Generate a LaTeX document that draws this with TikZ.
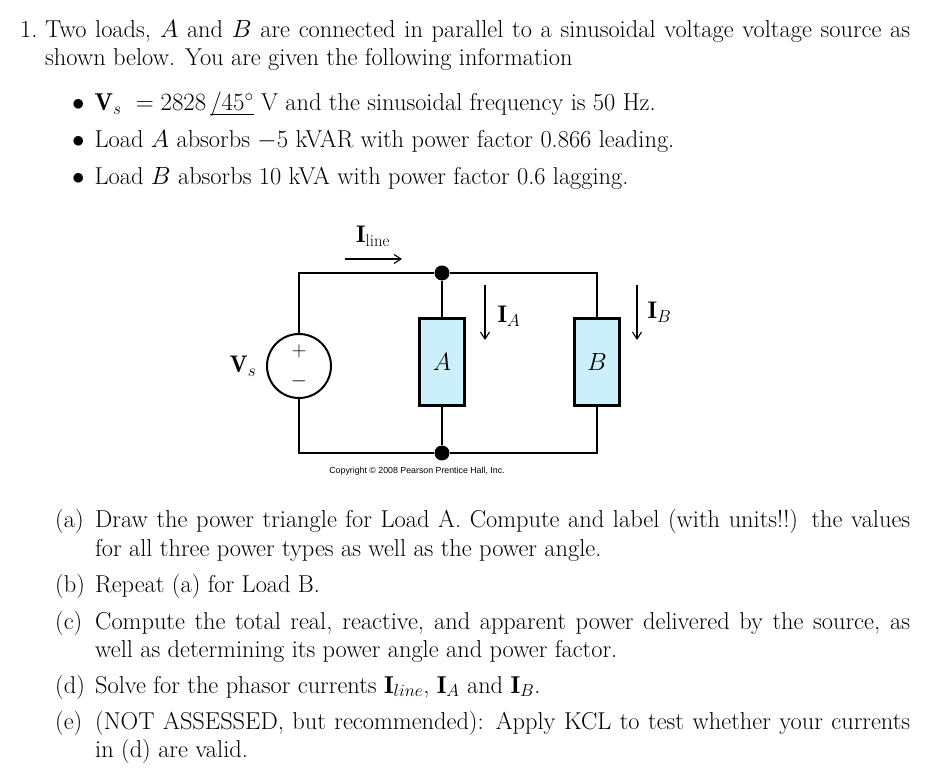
\documentclass[tikz,border=0pt]{standalone}
\usepackage{amsmath}
\usepackage{fontspec}
\newfontfamily\sansf{Liberation Sans}
\usetikzlibrary{arrows.meta}
\begin{document}
\begin{tikzpicture}[x=1pt,y=-1pt,
  txt/.style={anchor=base west,inner sep=0pt,font=\fontsize{24.4}{28}\selectfont},
  wire/.style={line width=1.8pt},
  load/.style={draw,line width=2.8pt,fill=cyan!20,minimum width=45pt,minimum height=87pt,inner sep=0pt},
  dot/.style={circle,fill,inner sep=0pt,minimum size=15pt},
  cur/.style={-{Straight Barb[length=7pt,width=9pt]},line width=1.1pt}]
\useasboundingbox (0,0) rectangle (943,775);
% text
\node[txt] (n1) at (20,38) {1.};
\node[txt] (t1) at (45,38) {\makebox[865pt][s]{Two loads, $A$ and $B$ are connected in parallel to a sinusoidal voltage voltage source as}};
\node[txt] (t2) at (45,66) {shown below. You are given the following information};
\node[txt] (b1) at (72,111) {$\bullet$\hspace{10pt}$\mathbf{V}_s\ =2828\,\underline{\smash{/45^\circ}}$ V and the sinusoidal frequency is 50 Hz.};
\node[txt] (b2) at (72,148) {$\bullet$\hspace{10pt}Load $A$ absorbs $-5$ kVAR with power factor 0.866 leading.};
\node[txt] (b3) at (72,185) {$\bullet$\hspace{10pt}Load $B$ absorbs 10 kVA with power factor 0.6 lagging.};
\node[txt] (la) at (55,528) {(a)};
\node[txt] (a1) at (95,528) {\makebox[815pt][s]{Draw the power triangle for Load A. Compute and label (with units!!) the values}};
\node[txt] (a2) at (95,556) {for all three power types as well as the power angle.};
\node[txt] (lb) at (55,592) {(b)};
\node[txt] (bb) at (95,592) {Repeat (a) for Load B.};
\node[txt] (lc) at (55,629) {(c)};
\node[txt] (c1) at (95,629) {\makebox[815pt][s]{Compute the total real, reactive, and apparent power delivered by the source, as}};
\node[txt] (c2) at (95,657) {well as determining its power angle and power factor.};
\node[txt] (ld) at (55,693) {(d)};
\node[txt] (d1) at (95,693) {Solve for the phasor currents $\mathbf{I}_{line}$, $\mathbf{I}_A$ and $\mathbf{I}_B$.};
\node[txt] (le) at (55,729) {(e)};
\node[txt] (e1) at (95,729) {\makebox[815pt][s]{(NOT ASSESSED, but recommended): Apply KCL to test whether your currents}};
\node[txt] (e2) at (95,757) {in (d) are valid.};
% circuit
\coordinate (tl) at (299,273); \coordinate (tr) at (597,273);
\coordinate (bl) at (299,453); \coordinate (br) at (597,453);
\node[dot] (nt) at (442,273) {}; \node[dot] (nb) at (442,453) {};
\node[draw,circle,line width=2pt,minimum size=64pt,inner sep=0pt] (vs) at (299,366) {};
\node[font=\fontsize{22}{22}\selectfont] at (299,351) {$+$};
\node[font=\fontsize{22}{22}\selectfont] at (299,381) {$-$};
\node[load] (A) at (442,362) {\fontsize{24}{24}\selectfont$A$};
\node[load] (B) at (597,362) {\fontsize{24}{24}\selectfont$B$};
\draw[wire] (vs.north) -- (tl) -- (nt) -- (tr) -- (B.north);
\draw[wire] (vs.south) -- (bl) -- (nb) -- (br) -- (B.south);
\draw[wire] (nt) -- (A.north); \draw[wire] (nb) -- (A.south);
\coordinate (i1) at (345,259); \coordinate (i2) at (402,259);
\draw[cur] (i1) -- (i2);
\node[font=\fontsize{24}{24}\selectfont] (il) at (373,236) {$\mathbf{I}_{\text{line}}$};
\coordinate (a1s) at (485,285); \coordinate (a1e) at (485,340);
\draw[cur] (a1s) -- (a1e);
\node[font=\fontsize{24}{24}\selectfont,anchor=west] (ia) at (494,316) {$\mathbf{I}_A$};
\coordinate (b1s) at (637,285); \coordinate (b1e) at (637,340);
\draw[cur] (b1s) -- (b1e);
\node[font=\fontsize{24}{24}\selectfont,anchor=west] (ib) at (644,312) {$\mathbf{I}_B$};
\node[font=\fontsize{24}{24}\selectfont] (vl) at (243,366) {$\mathbf{V}_s$};
\node[font=\sansf\fontsize{8.8}{9}\selectfont] (cp) at (417,471) {Copyright \textcopyright\ 2008 Pearson Prentice Hall, Inc.};
\end{tikzpicture}
\end{document}
